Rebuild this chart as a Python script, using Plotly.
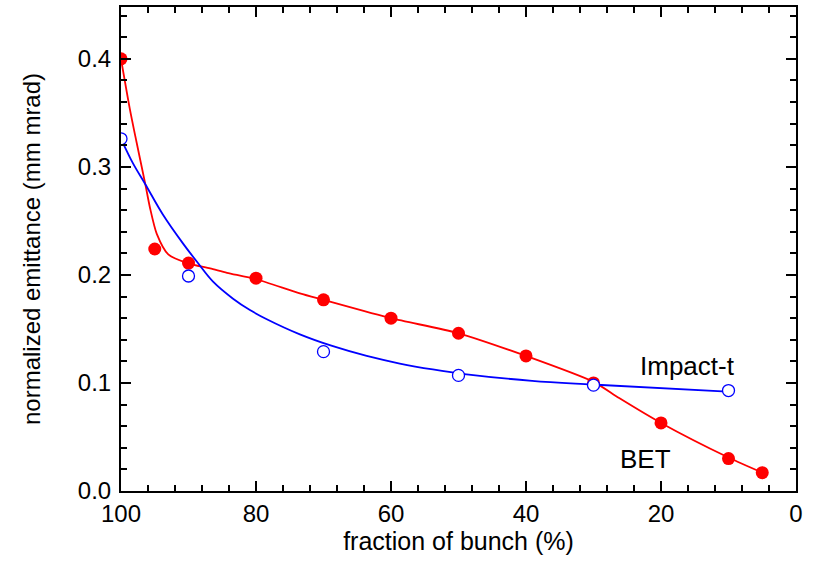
import plotly.graph_objects as go

# BET simulation points (filled red)
bet_x = [100, 95, 90, 80, 70, 60, 50, 40, 30, 20, 10, 5]
bet_y = [0.400, 0.224, 0.211, 0.197, 0.177, 0.160, 0.146, 0.125, 0.100, 0.063, 0.030, 0.017]

# Impact-t simulation points (open blue)
imp_x = [100, 90, 70, 50, 30, 10]
imp_y = [0.326, 0.199, 0.129, 0.107, 0.098, 0.093]

# Smooth fit curves
bet_fit_x = [100, 98.7, 97.7, 96.4, 95.7, 94.7, 93.0, 90.2, 86.8, 84.3, 80, 73.5, 70,
             60, 50, 40, 30, 26.2, 20, 10, 5]
bet_fit_y = [0.400, 0.354, 0.323, 0.284, 0.262, 0.238, 0.219, 0.211, 0.206, 0.202, 0.196,
             0.183, 0.177, 0.160, 0.146, 0.125, 0.101, 0.086, 0.063, 0.031, 0.017]

imp_fit_x = [100, 98.2, 96.4, 93.8, 90.8, 88.6, 86.4, 83.4, 80.9, 78.4, 73.5,
             68.6, 63.6, 58.7, 53.8, 48.8, 39.1, 30.2, 10.2]
imp_fit_y = [0.326, 0.303, 0.284, 0.256, 0.229, 0.211, 0.194, 0.178, 0.1675, 0.159,
             0.145, 0.134, 0.125, 0.118, 0.1125, 0.108, 0.102, 0.0986, 0.092]

x_ticks = [100, 80, 60, 40, 20, 0]
y_ticks = [0.0, 0.1, 0.2, 0.3, 0.4]

RED = "#ff0000"
BLUE = "#0000ff"
FONT = "Liberation Sans, Arial, sans-serif"

fig = go.Figure()
fig.add_trace(go.Scatter(x=bet_fit_x, y=bet_fit_y, mode="lines",
                         line=dict(color=RED, width=1.8, shape="spline", smoothing=0.7),
                         hoverinfo="skip"))
fig.add_trace(go.Scatter(x=imp_fit_x, y=imp_fit_y, mode="lines",
                         line=dict(color=BLUE, width=1.8, shape="spline", smoothing=1.0),
                         hoverinfo="skip"))
fig.add_trace(go.Scatter(x=bet_x, y=bet_y, mode="markers", name="BET",
                         marker=dict(symbol="circle", size=13, color=RED,
                                     line=dict(width=0))))
fig.add_trace(go.Scatter(x=imp_x, y=imp_y, mode="markers", name="Impact-t",
                         marker=dict(symbol="circle", size=12, color="white",
                                     line=dict(color=BLUE, width=1.3))))

fig.add_annotation(x=16.1, y=0.116, text="Impact-t", showarrow=False,
                   font=dict(family=FONT, size=26, color="black"))
fig.add_annotation(x=22.3, y=0.030, text="BET", showarrow=False,
                   font=dict(family=FONT, size=26, color="black"))

axis_common = dict(
    showline=True, linecolor="black", linewidth=2, mirror="allticks",
    ticks="inside", ticklen=10, tickwidth=2, tickcolor="black",
    showgrid=False, zeroline=False,
    tickfont=dict(family=FONT, size=24, color="black"),
)

fig.update_xaxes(range=[100, 0], tickmode="array", tickvals=x_ticks,
                 ticktext=[str(v) for v in x_ticks],
                 minor=dict(dtick=4, ticklen=6, tickwidth=1.5, ticks="inside",
                            tickcolor="black", showgrid=False),
                 title=dict(text="fraction of bunch (%)", standoff=5,
                            font=dict(family=FONT, size=25, color="black")),
                 **axis_common)
fig.update_yaxes(range=[0, 0.448], tickmode="array", tickvals=y_ticks,
                 ticktext=[f"{v:.1f}" for v in y_ticks],
                 minor=dict(dtick=0.02, ticklen=6, tickwidth=1.5, ticks="inside",
                            tickcolor="black", showgrid=False),
                 ticklabelstandoff=3,
                 title=dict(text="normalized emittance (mm mrad)", standoff=30,
                            font=dict(family=FONT, size=24, color="black")),
                 **axis_common)

fig.update_layout(width=814, height=561, showlegend=False,
                  margin=dict(l=121, r=18, t=5, b=70),
                  paper_bgcolor="white", plot_bgcolor="white")

fig.write_html("out.html", config={"displayModeBar": False},
               post_script="document.body.style.margin='0px';")
